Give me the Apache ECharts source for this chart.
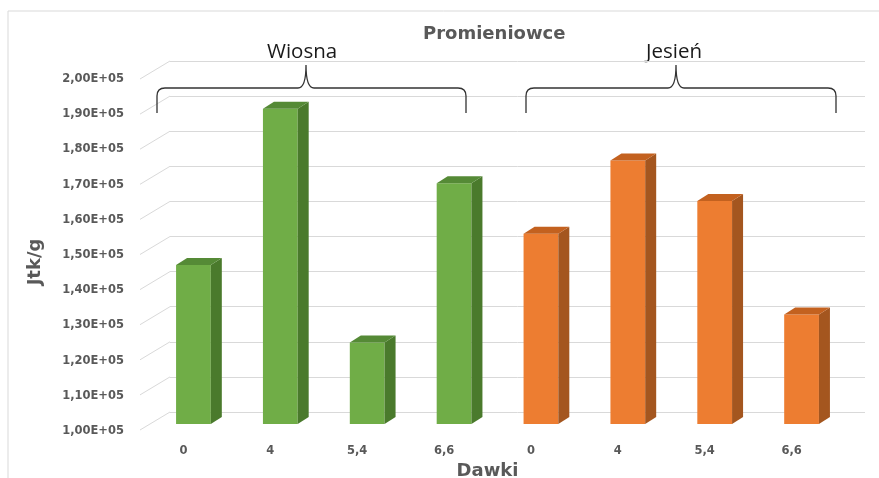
<!DOCTYPE html>
<html>
<head>
<meta charset="utf-8">
<script src="https://cdn.jsdelivr.net/npm/echarts@6/dist/echarts.min.js"></script>
<style>
  html, body { margin: 0; padding: 0; background: #fff; }
  #main { width: 879px; height: 478px; }
</style>
</head>
<body>
<div id="main"></div>
<script>
// dane
var kategorie = ["0", "4", "5,4", "6,6", "0", "4", "5,4", "6,6"];
var wiosna = [145300, 189800, 123200, 168600];
var jesien = [154200, 175100, 163500, 131200];
var podzialka = [100000, 110000, 120000, 130000, 140000, 150000, 160000, 170000, 180000, 190000, 200000];

var kolory = {
  zielony: { front: "#70ad47", bok: "#4a7a2c", gora: "#558a36" },
  pomaranczowy: { front: "#ed7d31", bok: "#a4561f", gora: "#c3611f" }
};

var FONT = "DejaVu Sans";
var GLEB_X = 11, GLEB_Y = 7;      // glebokosc slupka
var PRZOD_X = -20, PRZOD_Y = 12;  // przesuniecie przedniej sciany wzgledem tylnej

// slupek 3d: przod, bok, gora
function slupek3d(kolor) {
  return function (params, api) {
    var idx = api.value(0);
    var top = api.coord([idx, api.value(1)]);
    var base = api.coord([idx, podzialka[0]]);
    var w = api.size([1, 0])[0] * 0.4;
    var x0 = top[0] + PRZOD_X - w / 2, x1 = x0 + w;
    var y0 = top[1] + PRZOD_Y, y1 = base[1] + PRZOD_Y;
    return {
      type: "group",
      children: [
        { type: "rect", shape: { x: x0, y: y0, width: w, height: y1 - y0 }, style: { fill: kolor.front } },
        { type: "polygon", shape: { points: [[x1, y0], [x1 + GLEB_X, y0 - GLEB_Y], [x1 + GLEB_X, y1 - GLEB_Y], [x1, y1]] }, style: { fill: kolor.bok } },
        { type: "polygon", shape: { points: [[x0, y0], [x0 + GLEB_X, y0 - GLEB_Y], [x1 + GLEB_X, y0 - GLEB_Y], [x1, y0]] }, style: { fill: kolor.gora } }
      ]
    };
  };
}

// klamra nad grupa (adnotacja)
function klamra(xa, xb, xm, y, yKoniec, yGrot) {
  return "M" + xa + " " + yKoniec + " L" + xa + " " + (y + 8) + " Q" + xa + " " + y + " " + (xa + 8) + " " + y +
    " L" + (xm - 8) + " " + y + " Q" + xm + " " + y + " " + xm + " " + yGrot +
    " Q" + xm + " " + y + " " + (xm + 8) + " " + y +
    " L" + (xb - 8) + " " + y + " Q" + xb + " " + y + " " + xb + " " + (y + 8) + " L" + xb + " " + yKoniec;
}

var daneW = wiosna.map(function (v, i) { return [i, v]; });
var daneJ = jesien.map(function (v, i) { return [i + 4, v]; });

var option = {
  backgroundColor: "#fff",
  animation: false,
  title: {
    text: "Promieniowce",
    left: 418, top: 20,
    textStyle: { fontFamily: FONT, fontWeight: "bold", fontSize: 18, color: "#595959" }
  },
  grid: [
    // tylna sciana
    { left: 170, right: 14, top: 61, bottom: 66, outerBoundsMode: "none" },
    // przednia krawedz - podpisy osi
    { left: 140, right: 44, top: 79, bottom: 47, outerBoundsMode: "none" }
  ],
  xAxis: [
    { type: "category", gridIndex: 0, data: kategorie, axisLine: { show: false }, axisTick: { show: false }, axisLabel: { show: false } },
    {
      type: "category", gridIndex: 1, data: kategorie,
      axisLine: { show: false }, axisTick: { show: false },
      axisLabel: { margin: 14, fontSize: 11.5, fontFamily: FONT, fontWeight: "bold", color: "#595959" },
      name: "Dawki", nameLocation: "middle", nameGap: 25,
      nameTextStyle: { fontFamily: FONT, fontWeight: "bold", fontSize: 18, color: "#595959" }
    }
  ],
  yAxis: [
    {
      type: "value", gridIndex: 0, min: 100000, max: 200000, interval: 10000,
      axisLine: { show: false }, axisTick: { show: false }, axisLabel: { show: false },
      splitLine: { lineStyle: { color: "#d9d9d9", width: 1 } }
    },
    {
      type: "value", gridIndex: 1, min: 100000, max: 200000, interval: 10000,
      axisLine: { show: false }, axisTick: { show: false }, splitLine: { show: false },
      axisLabel: {
        margin: 16, fontSize: 11.5, fontFamily: FONT, fontWeight: "bold", color: "#595959",
        formatter: function (v) { return (v / 100000).toFixed(2).replace(".", ",") + "E+05"; }
      },
      name: "Jtk/g", nameLocation: "middle", nameGap: 96,
      nameTextStyle: { fontFamily: FONT, fontWeight: "bold", fontSize: 18, color: "#595959", padding: [0, 14, 0, 0] }
    }
  ],
  graphic: [
    // ramka
    { type: "polyline", silent: true, shape: { points: [[8, 478], [8, 11], [879, 11]] }, style: { stroke: "#d9d9d9", lineWidth: 1, fill: null } },
    { type: "text", silent: true, left: 267, top: 42, style: { text: "Wiosna", font: "20.5px 'Open Sans'", fill: "#1a1a1a" } },
    { type: "text", silent: true, left: 646, top: 42, style: { text: "Jesień", font: "20.5px 'Open Sans'", fill: "#1a1a1a" } }
  ],
  series: [
    {
      // boczna sciana - skosne linie siatki
      type: "custom", xAxisIndex: 0, yAxisIndex: 0, silent: true,
      data: podzialka.map(function (v) { return [0, v]; }),
      renderItem: function (params, api) {
        var p = api.coord([0, api.value(1)]);
        var x = params.coordSys.x;
        return { type: "line", shape: { x1: x, y1: p[1], x2: x - 30, y2: p[1] + 18 }, style: { stroke: "#d9d9d9", lineWidth: 1 } };
      }
    },
    { name: "Wiosna", type: "custom", xAxisIndex: 0, yAxisIndex: 0, data: daneW, renderItem: slupek3d(kolory.zielony) },
    { name: "Jesień", type: "custom", xAxisIndex: 0, yAxisIndex: 0, data: daneJ, renderItem: slupek3d(kolory.pomaranczowy) },
    {
      // klamry Wiosna / Jesien
      type: "custom", xAxisIndex: 0, yAxisIndex: 0, silent: true, clip: false,
      data: [[0, 100000]],
      renderItem: function () {
        return {
          type: "group",
          children: [
            { type: "path", shape: { pathData: klamra(157, 466, 306, 88, 113, 65) }, style: { stroke: "#333", lineWidth: 1.3, fill: null } },
            { type: "path", shape: { pathData: klamra(526, 836, 676, 88, 113, 65) }, style: { stroke: "#333", lineWidth: 1.3, fill: null } }
          ]
        };
      }
    }
  ]
};

var chart = echarts.init(document.getElementById("main"));
chart.setOption(option);
</script>
</body>
</html>
